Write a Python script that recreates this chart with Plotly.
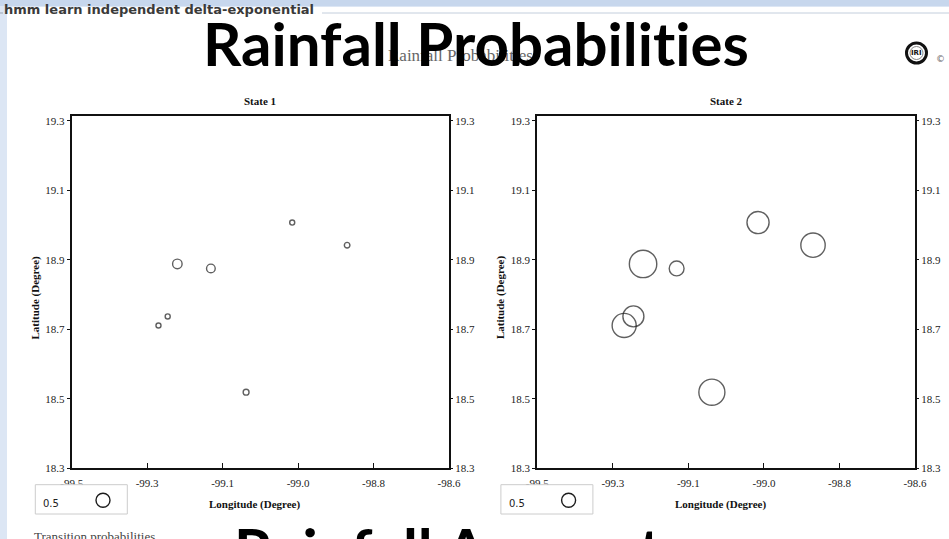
import plotly.graph_objects as go

W, H = 949, 539

# Station locations (degrees)
station_lon = [-98.974, -98.843, -99.248, -99.168, -99.271, -99.293, -99.084]
station_lat = [19.007, 18.942, 18.888, 18.875, 18.737, 18.711, 18.519]

# Probability of rain at each station in each hidden state
state1_prob = [0.18, 0.20, 0.34, 0.31, 0.18, 0.18, 0.21]
state2_prob = [0.79, 0.87, 0.98, 0.53, 0.75, 0.86, 0.93]

panel_titles = ["State 1", "State 2"]
legend_prob = 0.5

x_range = [-99.5, -98.6]
y_range = [18.3, 19.3145]
x_tickvals = [-99.5, -99.32, -99.14, -98.96, -98.78, -98.6]
x_ticktext = ["-99.5", "-99.3", "-99.1", "-99.0", "-98.8", "-98.6"]
y_tickvals = [18.3, 18.5, 18.7, 18.9, 19.1, 19.3]
y_ticktext = ["18.3", "18.5", "18.7", "18.9", "19.1", "19.3"]

PX_PER_PROB = 28.0          # circle diameter in pixels for probability 1
SERIF = "Liberation Serif, Times New Roman, serif"
HEAD = "Lato, Open Sans, sans-serif"
ZWNJ = "\u200c"             # keeps "t" and "i" as separate glyphs


def px(x):
    return x / W


def py(y):
    return 1 - y / H


panels = [
    dict(x0=71.7, x1=449.0, prob=state1_prob),
    dict(x0=537.3, x1=915.0, prob=state2_prob),
]
y_top, y_bot = 115.7, 468.3

fig = go.Figure()
layout_axes = {}
annotations = []
shapes = []

for i, p in enumerate(panels):
    n = i + 1
    xa = "x" if n == 1 else f"x{n}"
    ya = "y" if n == 1 else f"y{n}"
    ya_r = f"y{n + 2}"
    fig.add_trace(go.Scatter(
        x=station_lon, y=station_lat, mode="markers",
        xaxis=xa, yaxis=ya, showlegend=False, hoverinfo="skip",
        marker=dict(symbol="circle-open", size=p["prob"], sizemode="diameter",
                    sizeref=1 / PX_PER_PROB, color="#1c1c1c",
                    line=dict(width=1.4, color="#1c1c1c")),
    ))
    # right-hand latitude labels share the same scale
    fig.add_trace(go.Scatter(
        x=station_lon, y=station_lat, mode="markers",
        xaxis=xa, yaxis=ya_r, showlegend=False, hoverinfo="skip",
        marker=dict(opacity=0, size=1),
    ))

    tickfont = dict(family=SERIF, size=11, color="#222")
    common = dict(showgrid=False, zeroline=False, tickfont=tickfont,
                  automargin=False, fixedrange=True, tickwidth=1, tickcolor="#111")
    layout_axes["xaxis" if n == 1 else f"xaxis{n}"] = dict(
        domain=[px(p["x0"]), px(p["x1"])], anchor=ya, range=x_range,
        tickmode="array", tickvals=x_tickvals, ticktext=x_ticktext,
        ticks="inside", ticklen=5,
        showline=True, linewidth=2, linecolor="#111", mirror=True,
        ticklabelstandoff=3, **common,
    )
    layout_axes["yaxis" if n == 1 else f"yaxis{n}"] = dict(
        domain=[py(y_bot), py(y_top)], anchor=xa, range=y_range,
        tickmode="array", tickvals=y_tickvals, ticktext=y_ticktext,
        ticks="outside", ticklen=3,
        showline=True, linewidth=2, linecolor="#111", mirror=True,
        **common,
    )
    layout_axes[f"yaxis{n + 2}"] = dict(
        overlaying=ya, anchor=xa, side="right", range=y_range,
        tickmode="array", tickvals=y_tickvals, ticktext=y_ticktext,
        ticks="outside", ticklen=3, showline=False, **common,
    )

    cx = (p["x0"] + p["x1"]) / 2
    dx = p["x0"] - panels[0]["x0"]
    annotations += [
        dict(text=f"<b>{panel_titles[i]}</b>", x=px(cx), y=py(101),
             font=dict(family=SERIF, size=11, color="#111")),
        dict(text="<b>Longitude (Degree)</b>", x=px(254.5 + dx), y=py(504),
             font=dict(family=SERIF, size=11, color="#111")),
        dict(text="<b>Latitude (Degree)</b>", x=px(35 + dx), y=py(297.5),
             textangle=-90, font=dict(family=SERIF, size=11, color="#111")),
        dict(text="0.5", x=px(42 + dx), y=py(503.5), xanchor="left",
             font=dict(family="DejaVu Sans, sans-serif", size=10, color="#222")),
    ]
    # size legend box and its reference circle
    r = legend_prob * PX_PER_PROB / 2
    shapes += [
        dict(type="rect", xref="paper", yref="paper", layer="above",
             x0=px(35.3 + dx), x1=px(127.3 + dx), y0=py(514), y1=py(484.7),
             fillcolor="white", line=dict(color="#cccccc", width=1)),
        dict(type="circle", xref="paper", yref="paper", layer="above",
             xsizemode="pixel", ysizemode="pixel",
             xanchor=px(103 + dx), yanchor=py(500.3),
             x0=-r, x1=r, y0=-r, y1=r,
             line=dict(color="#1c1c1c", width=1.4)),
    ]

# page decoration: slide background, frame and logo
shapes = [
    dict(type="rect", xref="paper", yref="paper", layer="below",
         x0=0, x1=1, y0=0, y1=1, fillcolor="#dce6f4", line_width=0),
    dict(type="rect", xref="paper", yref="paper", layer="below",
         x0=px(7), x1=1, y0=0, y1=py(7), fillcolor="white", line_width=0),
    dict(type="rect", xref="paper", yref="paper", layer="below",
         x0=0, x1=1, y0=py(6), y1=1, fillcolor="#c7d7ed", line_width=0),
    dict(type="line", xref="paper", yref="paper", layer="below",
         x0=px(322), x1=1, y0=py(13), y1=py(13),
         line=dict(color="#c3cedc", width=1)),
    dict(type="line", xref="paper", yref="paper", layer="below",
         x0=px(0), x1=px(3), y0=py(13), y1=py(13),
         line=dict(color="#9aa6b4", width=1)),
    dict(type="circle", xref="paper", yref="paper", layer="above",
         xsizemode="pixel", ysizemode="pixel", xanchor=px(916.5), yanchor=py(53),
         x0=-10, x1=10, y0=-10, y1=10, fillcolor="white",
         line=dict(color="#111", width=3)),
    dict(type="circle", xref="paper", yref="paper", layer="above",
         xsizemode="pixel", ysizemode="pixel", xanchor=px(916.5), yanchor=py(53),
         x0=-6.5, x1=6.5, y0=-6.5, y1=6.5, line=dict(color="#888", width=1)),
] + shapes

annotations += [
    dict(text="<b>hmm learn independent delta-exponential</b>", x=px(3), y=py(10),
         xanchor="left",
         font=dict(family="DejaVu Sans, sans-serif", size=13, color="#3a3a3a")),
    dict(text="Rainfall Probabilities", x=px(460), y=py(55),
         font=dict(family=SERIF, size=17, color="#666")),
    dict(text=f"<b>Rainfall Probabilit{ZWNJ}ies</b>", x=px(475.5), y=py(43),
         font=dict(family=HEAD, size=60, color="#000")),
    dict(text="<b>IRI</b>", x=px(916.5), y=py(53),
         font=dict(family="DejaVu Sans, sans-serif", size=7, color="#111")),
    dict(text="©", x=px(940), y=py(59),
         font=dict(family="DejaVu Sans, sans-serif", size=9, color="#666")),
    dict(text="Transition probabilities", x=px(33), y=py(528), xanchor="left",
         yanchor="top", font=dict(family=SERIF, size=13, color="#444")),
    dict(text="<b>Rainfall Amounts</b>", x=px(461), y=py(512), yanchor="top",
         font=dict(family=HEAD, size=60, color="#000")),
]
for a in annotations:
    a.setdefault("xref", "paper")
    a.setdefault("yref", "paper")
    a.setdefault("xanchor", "center")
    a.setdefault("yanchor", "middle")
    a.setdefault("showarrow", False)
    a.setdefault("borderpad", 0)

fig.update_layout(
    template="none",
    width=W, height=H, autosize=False,
    margin=dict(l=0, r=0, t=0, b=0, pad=0, autoexpand=False),
    paper_bgcolor="white", plot_bgcolor="white",
    shapes=shapes, annotations=annotations,
    **layout_axes,
)

fig.write_html("out.html")
